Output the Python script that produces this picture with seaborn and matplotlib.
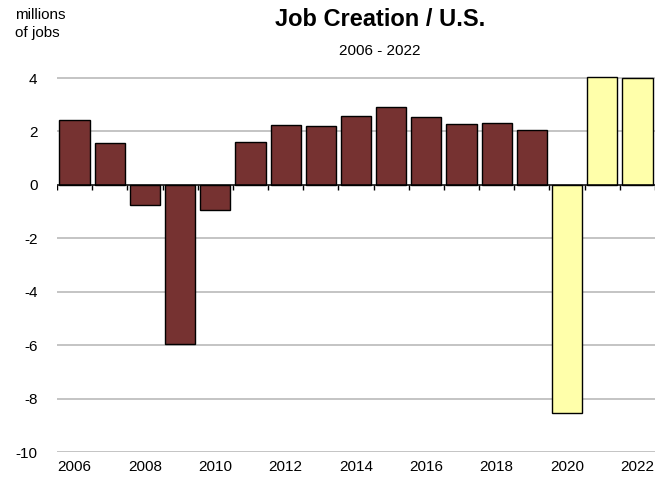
import numpy as np
import pandas as pd
import matplotlib
matplotlib.use("Agg")
import matplotlib.pyplot as plt
import seaborn as sns

# Annual change in U.S. payroll employment, millions of jobs
years = [2006, 2007, 2008, 2009, 2010, 2011, 2012, 2013, 2014,
         2015, 2016, 2017, 2018, 2019, 2020, 2021, 2022]
jobs = [2.43, 1.57, -0.75, -5.96, -0.94, 1.61, 2.25, 2.21, 2.58,
        2.92, 2.55, 2.28, 2.32, 2.06, -8.54, 4.04, 4.00]
period = ["pre"] * 14 + ["covid"] * 3
label_years = ["2006", "2008", "2010", "2012", "2014", "2016", "2018", "2020", "2022"]
y_ticks = [4, 2, 0, -2, -4, -6, -8, -10]

palette = {"pre": "#763231", "covid": "#FFFFAA"}

df = pd.DataFrame({"year": [str(y) for y in years], "jobs": jobs, "period": period})

sns.set_theme(style="white")
plt.rcParams["font.family"] = ["Liberation Sans", "DejaVu Sans"]
plt.rcParams["text.color"] = "black"
plt.rcParams["xtick.color"] = "black"
plt.rcParams["ytick.color"] = "black"

fig = plt.figure(figsize=(6.69, 4.86), dpi=100)
ax = fig.add_axes([57 / 669, 1 - 452 / 486, (655 - 57) / 669, (452 - 70) / 486])

sns.barplot(data=df, x="year", y="jobs", hue="period", palette=palette,
            dodge=False, width=0.86, saturation=1, edgecolor="black",
            linewidth=1.0, legend=False, ax=ax, zorder=3)

n = len(years)
ax.set_xlim(-0.5, n - 0.5)
ax.set_ylim(-10, 4.3)

# horizontal grid, zero line drawn as the category axis
for v in y_ticks:
    if v != 0:
        ax.axhline(v, color="#b4b4b4", lw=1.1, zorder=1)
ax.axhline(0, color="black", lw=1.1, zorder=4)
bounds = np.arange(n + 1) - 0.5
ax.vlines(bounds, -0.2, 0, color="black", lw=1.0, zorder=4)

for s in ax.spines.values():
    s.set_visible(False)

ax.set_yticks(y_ticks)
ax.set_yticklabels([str(v) for v in y_ticks], fontsize=11)
ax.tick_params(axis="y", length=0, pad=14)

pos = [years.index(int(y)) for y in label_years]
ax.set_xticks(pos)
ax.set_xticklabels(label_years, fontsize=11)
ax.tick_params(axis="x", length=0, pad=6)
ax.set_xlabel("")
ax.set_ylabel("")

fig.text(380 / 669, 1 - 20 / 486, "Job Creation / U.S.", ha="center", va="center",
         fontsize=17, fontweight="bold")
fig.text(380 / 669, 1 - 51 / 486, "2006 - 2022", ha="center", va="center", fontsize=11)
fig.text(15 / 669, 1 - 8 / 486, "millions\nof jobs", ha="left", va="top",
         fontsize=11, linespacing=1.4)

fig.savefig("out.png", dpi=100)
